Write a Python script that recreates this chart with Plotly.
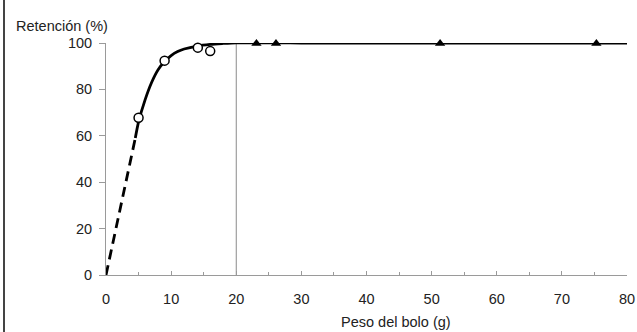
import plotly.graph_objects as go

# Data
circle_x = [5, 9, 14.1, 16, 20.2]
circle_y = [67.8, 92.4, 98.0, 96.5, 100.3]
triangle_x = [23.1, 26.1, 51.3, 75.3]
triangle_y = [99.8, 99.8, 99.8, 99.8]
curve_x = [4.5, 5, 6, 7, 8, 9, 10, 11, 12, 14, 16, 18, 20, 22, 30, 80]
curve_y = [59, 66, 75.5, 83, 88.5, 92, 94.6, 96.3, 97.4, 98.7, 99.4, 99.8, 100.1, 100.1, 100, 100]
dash_x = [0, 4.5]
dash_y = [0, 59]
threshold_x = [20, 20]
threshold_y = [0, 100]
x_ticks = [0, 10, 20, 30, 40, 50, 60, 70, 80]
y_ticks = [0, 20, 40, 60, 80, 100]

FONT = "Liberation Sans, Arial, sans-serif"
FS = 14.5
W, H = 637, 332
ML, MR, MT, MB = 106, 10, 43, 57

fig = go.Figure()
fig.add_trace(go.Scatter(x=threshold_x, y=threshold_y, mode="lines",
                         line=dict(color="#8a8a8a", width=1), hoverinfo="skip", cliponaxis=False))
fig.add_trace(go.Scatter(x=dash_x, y=dash_y, mode="lines",
                         line=dict(color="black", width=2.8, dash="10px,6px"), cliponaxis=False))
fig.add_trace(go.Scatter(x=curve_x, y=curve_y, mode="lines",
                         line=dict(color="black", width=2.8, shape="spline", smoothing=0.8), cliponaxis=False))
fig.add_trace(go.Scatter(x=triangle_x, y=triangle_y, mode="markers",
                         marker=dict(symbol="triangle-up", size=9, color="black"), cliponaxis=False))
fig.add_trace(go.Scatter(x=circle_x, y=circle_y, mode="markers",
                         marker=dict(symbol="circle", size=9, color="white",
                                     line=dict(color="black", width=1.5)), cliponaxis=False))

fig.update_layout(
    width=W, height=H,
    margin=dict(l=ML, r=MR, t=MT, b=MB),
    paper_bgcolor="white", plot_bgcolor="white",
    showlegend=False,
    font=dict(family=FONT, size=FS, color="#222"),
    xaxis=dict(range=[0, 80], tickvals=x_ticks, showgrid=False, zeroline=False,
               automargin=False,
               showline=True, linecolor="#9a9a9a", linewidth=1,
               ticks="inside", ticklen=4, tickcolor="#9a9a9a",
               minor=dict(dtick=5, ticks="inside", ticklen=3, tickcolor="#9a9a9a"),
               ticklabelstandoff=11, tickfont=dict(size=FS, family=FONT, color="#222")),
    yaxis=dict(range=[0, 100], tickvals=y_ticks, showgrid=False, zeroline=False,
               automargin=False,
               showline=True, linecolor="#9a9a9a", linewidth=1,
               ticks="outside", ticklen=6, tickcolor="#9a9a9a",
               ticklabelstandoff=4, tickfont=dict(size=FS, family=FONT, color="#222")),
    annotations=[
        dict(text="Retención (%)", xref="paper", yref="paper",
             x=(14 - ML) / (W - ML - MR), y=(H - MB - 26) / (H - MT - MB),
             xanchor="left", yanchor="middle", showarrow=False,
             font=dict(family=FONT, size=FS, color="#222")),
        dict(text="Peso del bolo (g)", xref="paper", yref="paper",
             x=(396 - ML) / (W - ML - MR), y=-(322 - (H - MB)) / (H - MT - MB),
             xanchor="center", yanchor="middle", showarrow=False,
             font=dict(family=FONT, size=FS, color="#222")),
    ],
    shapes=[dict(type="line", xref="paper", yref="paper",
                 x0=(4 - ML) / (W - ML - MR), x1=(4 - ML) / (W - ML - MR),
                 y0=-MB / (H - MT - MB), y1=(H - MB) / (H - MT - MB),
                 line=dict(color="#444", width=2))],
)

fig.write_html("out.html", config={"displayModeBar": False},
               post_script="document.body.style.margin='0';document.body.style.overflow='hidden';")
